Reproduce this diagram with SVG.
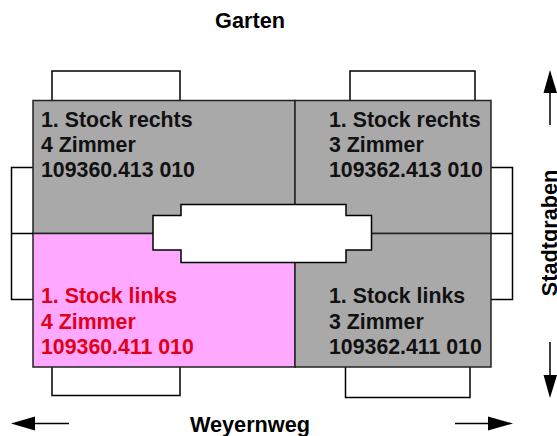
<svg xmlns="http://www.w3.org/2000/svg" width="557" height="436" viewBox="0 0 557 436">
<style>
text{font-family:"Liberation Sans",Arial,sans-serif;font-weight:700;font-size:21.3px;fill:#000}
.t{font-size:21.7px}
.l{fill:#111}
.r{fill:#e00018}
.o{fill:none;stroke:#000;stroke-width:1.5}
.w{fill:#a9a9a9;stroke:#222;stroke-width:1.5}
.a{fill:#000;stroke:none}
</style>
<rect width="557" height="436" fill="#fff"/>
<g id="balconies">
<path class="o" d="M52 100.5V71H180V100.5"/>
<path class="o" d="M350 100.5V71H475V100.5"/>
<path class="o" d="M33 167.5H11.5V299.5H33"/>
<path class="o" d="M491 167.5H512.5V299.5H491"/>
<path class="o" d="M52 367V395.500H180V367"/>
<path class="o" d="M345.500 367V397.500H470V367"/>
</g>
<g id="unit-top-left"><rect class="w" x="33" y="100.500" width="262" height="133"/>
<text class="l" x="41" y="127">1. Stock rechts</text><text class="l" x="41" y="152">4 Zimmer</text><text class="l" x="41" y="177">109360.413 010</text></g>
<g id="unit-top-right"><rect class="w" x="295" y="100.500" width="196" height="133"/>
<text class="l" x="329" y="127">1. Stock rechts</text><text class="l" x="329" y="152">3 Zimmer</text><text class="l" x="329" y="177">109362.413 010</text></g>
<g id="unit-bottom-left"><rect class="w" style="fill:#ffa8ff" x="33" y="233.500" width="262" height="133.500"/>
<text class="r" x="41" y="303">1. Stock links</text><text class="r" x="41" y="329">4 Zimmer</text><text class="r" x="41" y="354">109360.411 010</text></g>
<g id="unit-bottom-right"><rect class="w" x="295" y="233.500" width="196" height="133.500"/>
<text class="l" x="329" y="303">1. Stock links</text><text class="l" x="329" y="329">3 Zimmer</text><text class="l" x="329" y="354">109362.411 010</text></g>
<g id="connectors">
<path class="o" d="M11.500 233.500H33M491 233.500H512.500"/>
<path d="M181 204.500H346V215.500H371.500V250H346V262.500H181V250H153V215.500H181Z" fill="#fff" stroke="#000" stroke-width="1.500"/>
<path class="o" d="M550 125V93M550 342V375M69 423.500H35M455 423.500H488"/>
<path class="a" d="M550 70L557 93H543.500Z"/>
<path class="a" d="M550 398L557 375H543.500Z"/>
<path class="a" d="M11 423.500L35 416.500V430.500Z"/>
<path class="a" d="M513 423.500L488 416.500V430.500Z"/>
</g>
<g id="labels">
<text class="t" x="250" y="27.500" text-anchor="middle">Garten</text>
<text class="t" x="250" y="431.500" text-anchor="middle">Weyernweg</text>
<text class="t" transform="translate(556.500 233) rotate(-90)" text-anchor="middle">Stadtgraben</text>
</g>
</svg>
